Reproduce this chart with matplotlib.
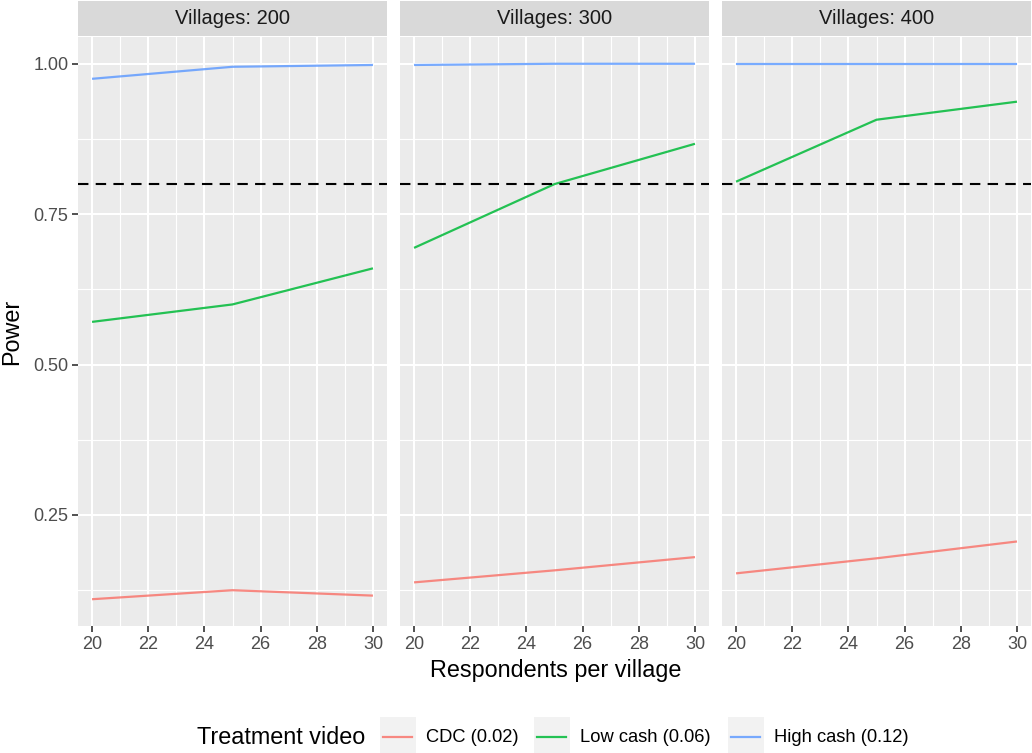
import matplotlib.pyplot as plt
from matplotlib.patches import Rectangle
from matplotlib.lines import Line2D

plt.rcParams["font.family"] = ["Liberation Sans", "DejaVu Sans"]

# data
respondents = [20, 25, 30]
villages = [200, 300, 400]
series = ["CDC (0.02)", "Low cash (0.06)", "High cash (0.12)"]
colors = ["#F8766D", "#00BA38", "#619CFF"]

power_cdc = [[0.110, 0.125, 0.116], [0.138, 0.158, 0.180], [0.153, 0.178, 0.206]]
power_low = [[0.571, 0.600, 0.660], [0.694, 0.800, 0.867], [0.804, 0.907, 0.937]]
power_high = [[0.975, 0.995, 0.998], [0.998, 1.000, 1.000], [1.000, 1.000, 1.000]]
power = [power_cdc, power_low, power_high]
target = 0.8

W, H = 1032, 753
fig = plt.figure(figsize=(W / 100, H / 100), dpi=100)

# y limits with ggplot-style 5% expansion
allv = [v for s in power for row in s for v in row]
lo, hi = min(allv), max(allv)
pad = (hi - lo) * 0.05
ylim = (lo - pad, hi + pad)
xpad = (max(respondents) - min(respondents)) * 0.05
xlim = (min(respondents) - xpad, max(respondents) + xpad)

panel_x = [78, 400, 722]
panel_w = 309
top, bottom = 37, 626

for i, v in enumerate(villages):
    ax = fig.add_axes([panel_x[i] / W, 1 - bottom / H, panel_w / W, (bottom - top) / H])
    ax.set_facecolor("#EBEBEB")
    for sp in ax.spines.values():
        sp.set_visible(False)
    ax.set_xlim(*xlim)
    ax.set_ylim(*ylim)
    ax.set_xticks([20, 22, 24, 26, 28, 30])
    ax.set_xticks([21, 23, 25, 27, 29], minor=True)
    ax.set_yticks([0.25, 0.50, 0.75, 1.00])
    ax.set_yticks([0.125, 0.375, 0.625, 0.875], minor=True)
    ax.grid(which="major", color="white", lw=1.5)
    ax.grid(which="minor", color="white", lw=0.8)
    ax.set_axisbelow(True)
    ax.tick_params(which="major", length=4, width=1.2, color="#333333",
                   labelsize=13, labelcolor="#4D4D4D", pad=3)
    ax.tick_params(which="minor", length=0)
    if i == 0:
        ax.set_yticklabels(["0.25", "0.50", "0.75", "1.00"])
    else:
        ax.tick_params(axis="y", which="major", length=0, labelleft=False)

    for s in range(len(series)):
        ax.plot(respondents, power[s][i], color=colors[s], lw=1.6, alpha=0.85,
                solid_capstyle="butt")
    ax.axhline(target, color="black", lw=1.5, linestyle=(0, (5, 3.5)))

    # facet strip
    sax = fig.add_axes([panel_x[i] / W, 1 - 36 / H, panel_w / W, 35 / H])
    sax.set_facecolor("#D9D9D9")
    sax.set_xticks([])
    sax.set_yticks([])
    for sp in sax.spines.values():
        sp.set_visible(False)
    sax.text(0.5, 0.5, f"Villages: {v}", ha="center", va="center",
             fontsize=14.5, color="#1A1A1A", transform=sax.transAxes)

fig.text(430 / W, 1 - 670 / H, "Respondents per village", fontsize=16.8, va="center", ha="left")
fig.text(12 / W, 1 - 332 / H, "Power", fontsize=16.8, rotation=90, va="center", ha="center")

# legend drawn by hand, ggplot style
fig.text(197 / W, 1 - 737 / H, "Treatment video", fontsize=16.8, va="center", ha="left")
key_x = [380, 534, 728]
for s, lab in enumerate(series):
    x0 = key_x[s]
    fig.patches.append(Rectangle((x0 / W, 1 - 753 / H), 36 / W, 36 / H,
                                 transform=fig.transFigure, facecolor="#F2F2F2",
                                 edgecolor="none"))
    fig.lines.append(Line2D([(x0 + 3) / W, (x0 + 32) / W], [1 - 737 / H, 1 - 737 / H],
                            transform=fig.transFigure, color=colors[s], lw=1.6, alpha=0.85))
    fig.text((x0 + 46) / W, 1 - 737 / H, lab, fontsize=13.2, va="center", ha="left")

fig.savefig("out.png", dpi=100)
